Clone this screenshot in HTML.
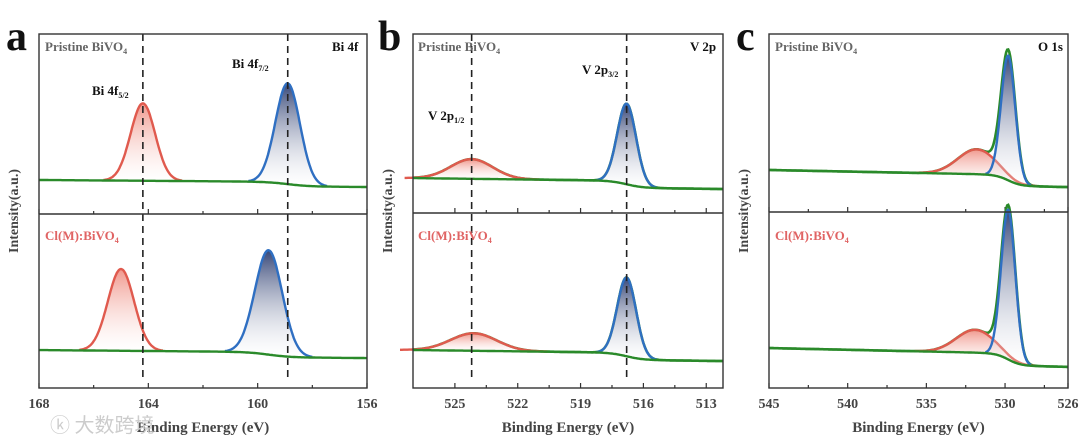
<!DOCTYPE html>
<html><head><meta charset="utf-8"><style>
body{margin:0;background:#fff;width:1080px;height:448px;overflow:hidden}
svg{display:block;font-family:"Liberation Serif",serif}
</style></head><body>
<svg id="fig" width="1080" height="448" viewBox="0 0 1080 448">
<defs>
<linearGradient id="gRed" x1="0" y1="0" x2="0" y2="1"><stop offset="0" stop-color="#e8604f" stop-opacity="0.65"/><stop offset="1" stop-color="#fff" stop-opacity="0.2"/></linearGradient>
<linearGradient id="gBlue" x1="0" y1="0" x2="0" y2="1"><stop offset="0" stop-color="#2c3d70" stop-opacity="0.95"/><stop offset="1" stop-color="#fff" stop-opacity="0.2"/></linearGradient>
</defs>
<g id="plots"></g>
<g id="texts" font-weight="bold">
<text x="6" y="50" font-size="42" fill="#111">a</text>
<text x="378" y="50" font-size="42" fill="#111">b</text>
<text x="736" y="50" font-size="42" fill="#111">c</text>
<text x="45" y="51" font-size="13" fill="#666">Pristine BiVO<tspan font-size="8" dy="3">4</tspan></text>
<text x="45" y="240" font-size="13" fill="#e06464">Cl(M):BiVO<tspan font-size="8" dy="3">4</tspan></text>
<text x="332" y="51" font-size="13" fill="#111">Bi 4f</text>
<text x="92" y="95" font-size="13" fill="#111">Bi 4f<tspan font-size="8" dy="3">5/2</tspan></text>
<text x="232" y="68" font-size="13" fill="#111">Bi 4f<tspan font-size="8" dy="3">7/2</tspan></text>
<text x="418" y="51" font-size="13" fill="#666">Pristine BiVO<tspan font-size="8" dy="3">4</tspan></text>
<text x="418" y="240" font-size="13" fill="#e06464">Cl(M):BiVO<tspan font-size="8" dy="3">4</tspan></text>
<text x="690" y="51" font-size="13" fill="#111">V 2p</text>
<text x="428" y="120" font-size="13" fill="#111">V 2p<tspan font-size="8" dy="3">1/2</tspan></text>
<text x="582" y="74" font-size="13" fill="#111">V 2p<tspan font-size="8" dy="3">3/2</tspan></text>
<text x="775" y="51" font-size="13" fill="#666">Pristine BiVO<tspan font-size="8" dy="3">4</tspan></text>
<text x="775" y="240" font-size="13" fill="#e06464">Cl(M):BiVO<tspan font-size="8" dy="3">4</tspan></text>
<text x="1038" y="51" font-size="13" fill="#111">O 1s</text>
<text x="50" y="432" font-size="20" fill="#ccc" font-weight="normal" font-family="'Noto Sans CJK SC',sans-serif">ⓚ 大数跨境</text>
</g>
</svg>
<script>
// ---- data ----
const panelRanges = [[168,156],[527,512.2],[545,526]];
const tickLabelsA = [168,164,160,156];
const tickLabelsB = [525,522,519,516,513];
const tickLabelsC = [545,540,535,530,526];
const minorA = [166,162,158];
const minorB = [523.5,520.5,517.5,514.5];
const minorC = [542.5,537.5,532.5,527.5];
const dashA = [164.2,158.9];
const dashB = [524.2,516.8];
const dashC = [];
// peaks: [center, height, sigma]; background [left, right]
const aTopRed=[164.2,43,0.45], aTopBlue=[158.9,56,0.45], aTopBg=[18.9,15];
const aBotRed=[165.0,47,0.48], aBotBlue=[159.6,60,0.5], aBotBg=[21.8,17.2];
const bTopRed=[524.2,11,1.0], bTopBlue=[516.8,45,0.45], bTopBg=[19.5,13.4];
const bBotRed=[524.1,10,1.1], bBotBlue=[516.8,45,0.45], bBotBg=[21.7,15.4];
const cTopRed=[531.8,14,1.2], cTopBlue=[529.8,70,0.45], cTopBg=[23.6,14];
const cBotRed=[531.9,13,1.2], cBotBlue=[529.8,85,0.45], cBotBg=[22.7,12];

const panels=[
 {x0:39,x1:367,y0:34,ym:214,y1:388,rng:panelRanges[0],ticks:tickLabelsA,minor:minorA,dash:dashA,
  sub:[[aTopRed,aTopBlue,aTopBg],[aBotRed,aBotBlue,aBotBg]],name:'a'},
 {x0:413,x1:723,y0:34,ym:213,y1:388,rng:panelRanges[1],ticks:tickLabelsB,minor:minorB,dash:dashB,
  sub:[[bTopRed,bTopBlue,bTopBg],[bBotRed,bBotBlue,bBotBg]],name:'b'},
 {x0:769,x1:1068,y0:34,ym:212,y1:388,rng:panelRanges[2],ticks:tickLabelsC,minor:minorC,dash:dashC,
  sub:[[cTopRed,cTopBlue,cTopBg],[cBotRed,cBotBlue,cBotBg]],name:'c'}
];
const NS='http://www.w3.org/2000/svg';
const root=document.getElementById('plots');
function mk(tag,attrs,parent){const e=document.createElementNS(NS,tag);for(const k in attrs)e.setAttribute(k,attrs[k]);(parent||root).appendChild(e);return e;}
const g=(p,x)=>p[1]*Math.exp(-((x-p[0])**2)/(2*p[2]*p[2]));
panels.forEach(P=>{
 const xs=v=>P.x0+(v-P.rng[0])/(P.rng[1]-P.rng[0])*(P.x1-P.x0);
 P.sub.forEach((S,si)=>{
  const top=si?P.ym:P.y0, bot=si?P.y1:P.ym;
  const ys=v=>bot-v/100*(bot-top);
  const [red,blue,bg]=S;
  const N=300;
  const bgf=x=>{
    const t=(x-P.rng[0])/(P.rng[1]-P.rng[0]);
    const step=1/(1+Math.exp(-(x-blue[0])*(P.rng[0]>P.rng[1]?-1:1)*-2.5));
    return bg[0]+(bg[1]-bg[0])*(0.35*t+0.65*(1-step));
  };
  const pts=(f)=>{let a=[];for(let i=0;i<=N;i++){const x=P.rng[0]+(P.rng[1]-P.rng[0])*i/N;a.push([xs(x),ys(f(x))]);}return a;};
  const line=a=>a.map((p,i)=>(i?'L':'M')+p[0].toFixed(1)+' '+p[1].toFixed(1)).join('');
  if(P.name!=='a'){
   const env=mk('path',{d:line(pts(x=>bgf(x)+g(red,x)+g(blue,x))),fill:'none',stroke:'#2a8a2a','stroke-width':2.6});
   
   
  }
  [[red,'url(#gRed)','#e05a4e','red-peak'],[blue,'url(#gBlue)','#2f6fc2','blue-peak']].forEach(([pk,fill,col,nm])=>{
    const lo=pk[0]-3.2*pk[2], hi=pk[0]+3.2*pk[2];
    let a=[];for(let i=0;i<=80;i++){const x=lo+(hi-lo)*i/80;a.push([xs(x),ys(bgf(x)+g(pk,x))]);}
    let b=[];for(let i=80;i>=0;i--){const x=lo+(hi-lo)*i/80;b.push([xs(x),ys(bgf(x))]);}
    const ar=mk('path',{d:line(a)+b.map(p=>'L'+p[0].toFixed(1)+' '+p[1].toFixed(1)).join('')+'Z',fill:fill,stroke:'none'});
    
    
    const ln=mk('path',{d:line(a),fill:'none',stroke:col,'stroke-width':2.4});
    
    
  });
  const bl=mk('path',{d:line(pts(bgf)),fill:'none',stroke:'#2a8a2a','stroke-width':2.4});
  
  
  P.ticks.concat(P.minor).forEach(t=>{
   const len=P.ticks.includes(t)?5:3;
   const tk=mk('line',{x1:xs(t),x2:xs(t),y1:bot,y2:bot-len,stroke:'#333','stroke-width':1.2});
   
   
  });
 });
 P.dash.forEach(d=>{
  const dl=mk('line',{x1:xs(d),x2:xs(d),y1:P.y0,y2:P.y1-8,stroke:'#222','stroke-width':1.6,'stroke-dasharray':'7,5'});
  
  
 });
 const fr=mk('rect',{x:P.x0,y:P.y0,width:P.x1-P.x0,height:P.y1-P.y0,fill:'none',stroke:'#333','stroke-width':1.4});
 
 
 const dv=mk('line',{x1:P.x0,x2:P.x1,y1:P.ym,y2:P.ym,stroke:'#333','stroke-width':1.4});
 
 
 P.ticks.forEach(t=>{
  const tx=mk('text',{x:xs(t),y:408,'text-anchor':'middle','font-size':14,'font-weight':'bold',fill:'#444'});
  tx.textContent=t;
  
  
 });
 const xt=mk('text',{x:(P.x0+P.x1)/2,y:432,'text-anchor':'middle','font-size':15,'font-weight':'bold',fill:'#444'});
 xt.textContent='Binding Energy (eV)';
 
 
 const cx=P.x0-21, cy=(P.y0+P.y1)/2;
 const yt=mk('text',{x:cx,y:cy,transform:`rotate(-90 ${cx} ${cy})`,'text-anchor':'middle','font-size':14,'font-weight':'bold',fill:'#444'});
 yt.textContent='Intensity(a.u.)';
 
 
});
</script>
</body></html>
